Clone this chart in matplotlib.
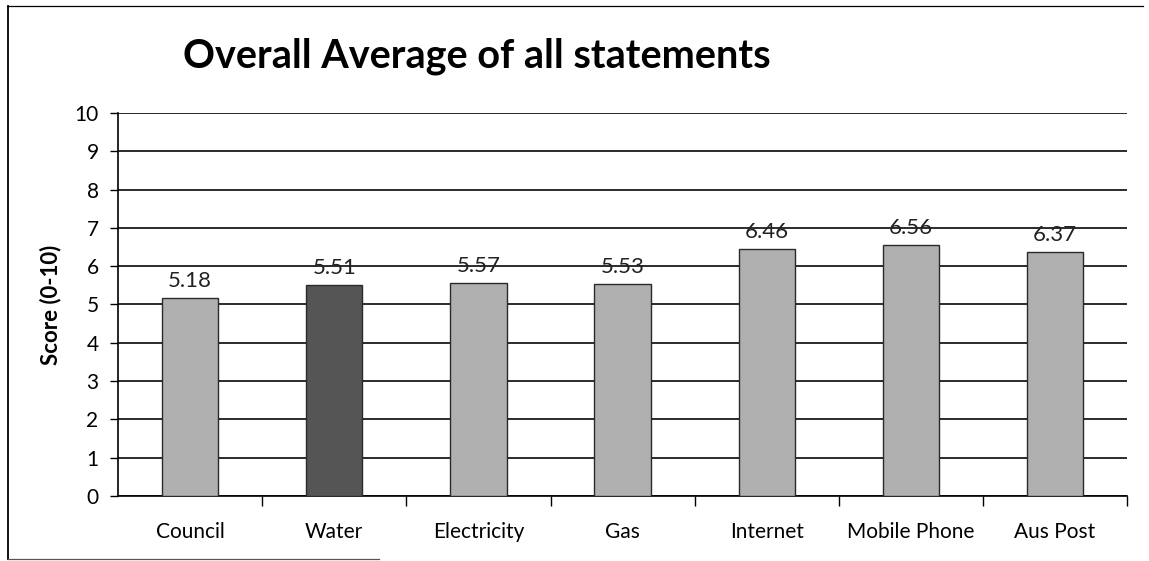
import matplotlib
matplotlib.use("Agg")
import matplotlib.pyplot as plt
from matplotlib.lines import Line2D

# Chart data
categories = ["Council", "Water", "Electricity", "Gas", "Internet", "Mobile Phone", "Aus Post"]
scores = [5.18, 5.51, 5.57, 5.53, 6.46, 6.56, 6.37]
highlight = "Water"
y_ticks = list(range(0, 11))

plt.rcParams["font.family"] = ["Lato", "DejaVu Sans"]

fig = plt.figure(figsize=(11.49, 5.61), dpi=100)
ax = fig.add_axes([0.1027, 0.1159, 0.8783, 0.6827])

x = list(range(len(categories)))
colors = ["#555555" if c == highlight else "#b0b0b0" for c in categories]
bars = ax.bar(x, scores, width=0.39, color=colors, edgecolor="#2a2a2a",
              linewidth=1.0, zorder=3)

for rect, v in zip(bars, scores):
    ax.annotate(f"{v:.2f}", (rect.get_x() + rect.get_width() / 2, v),
                xytext=(0, 5), textcoords="offset points",
                ha="center", va="bottom", fontsize=16, color="#222222", zorder=4)

ax.set_xlim(-0.5, len(categories) - 0.5)
ax.set_ylim(0, 10)
ax.set_yticks(y_ticks)
ax.tick_params(axis="y", labelsize=15, length=6, width=1.0, direction="out", pad=8)

# category labels centred, tick marks at category boundaries
ax.set_xticks(x)
ax.set_xticklabels(categories, fontsize=15)
ax.tick_params(axis="x", which="major", length=0, pad=19)
ax.set_xticks([i + 0.5 for i in range(len(categories))], minor=True)
ax.tick_params(axis="x", which="minor", length=7, width=1.0, direction="out")

ax.yaxis.grid(True, color="#1a1a1a", linewidth=1.3, zorder=0)
ax.set_axisbelow(True)

for side in ["top", "right"]:
    ax.spines[side].set_visible(False)
ax.spines["left"].set_linewidth(1.2)
ax.spines["bottom"].set_linewidth(1.2)

ax.set_ylabel("Score (0-10)", fontsize=16, fontweight="bold", labelpad=9)

fig.text(0.159, 0.900, "Overall Average of all statements", fontsize=28.5,
         fontweight="bold", ha="left", va="center")

# outer frame
fig.add_artist(Line2D([0.007, 0.007], [0.004, 0.99], color="black", lw=1.3))
fig.add_artist(Line2D([0.007, 0.995], [0.99, 0.99], color="black", lw=0.9))
fig.add_artist(Line2D([0.007, 0.33], [0.004, 0.004], color="#555555", lw=0.9))

fig.savefig("out.png", dpi=100, facecolor="white")
